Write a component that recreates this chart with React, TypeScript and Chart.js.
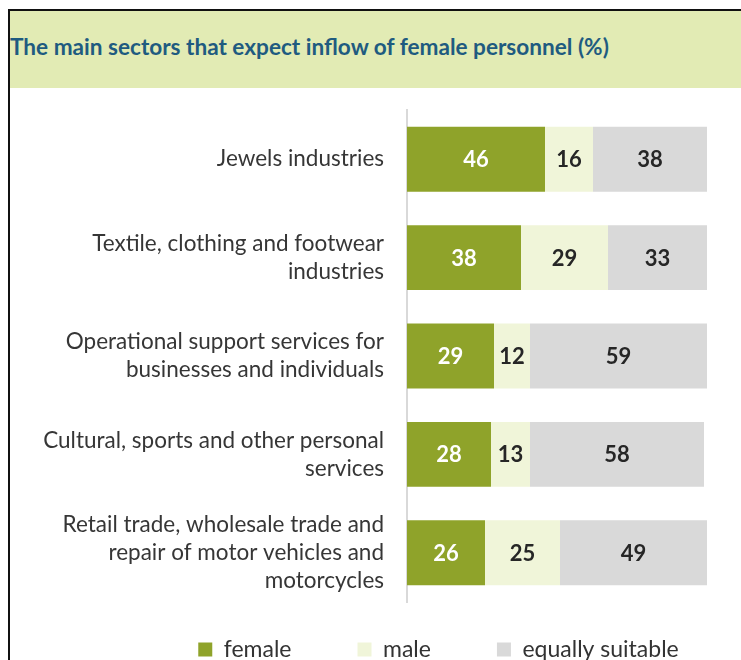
import React, { useEffect, useRef } from "react";
import { Chart, registerables } from "chart.js";

Chart.register(...registerables);

const TITLE = "The main sectors that expect inflow of female personnel (%)";

const categories: string[][] = [
  ["Jewels industries"],
  ["Textile, clothing and footwear", "industries"],
  ["Operational support services for", "businesses and individuals"],
  ["Cultural, sports and other personal", "services"],
  ["Retail trade, wholesale trade and", "repair of motor vehicles and", "motorcycles"],
];

const seriesNames = ["female", "male", "equally suitable"];
const femaleValues = [46, 38, 29, 28, 26];
const maleValues = [16, 29, 12, 13, 25];
const equallyValues = [38, 33, 59, 58, 49];

const seriesColors = ["#8fa32a", "#f0f5d9", "#d9d9d9"];
const labelColors = ["#ffffff", "#262626", "#262626"];

const FONT = "Lato, 'Open Sans', sans-serif";

const valueLabels = {
  id: "valueLabels",
  afterDatasetsDraw(chart: any) {
    const ctx = chart.ctx;
    ctx.save();
    ctx.font = `bold 22px ${FONT}`;
    ctx.textAlign = "center";
    ctx.textBaseline = "middle";
    chart.data.datasets.forEach((ds: any, i: number) => {
      const meta = chart.getDatasetMeta(i);
      meta.data.forEach((el: any, j: number) => {
        const v = ds.data[j];
        ctx.fillStyle = labelColors[i];
        ctx.fillText(String(v), (el.x + el.base) / 2, el.y + 1);
      });
    });
    ctx.restore();
  },
};

const legendShift = {
  id: "legendShift",
  afterLayout(chart: any) {
    const lg = chart.legend;
    if (!lg) return;
    const dy = -30;
    const dx = 80;
    lg.top += dy;
    lg.bottom += dy;
    lg.left += dx;
    lg.right += dx;
  },
};

export default function App() {
  const ref = useRef<HTMLCanvasElement | null>(null);

  useEffect(() => {
    if (!ref.current) return;
    const chart = new Chart(ref.current, {
      type: "bar",
      data: {
        labels: categories,
        datasets: [
          { label: seriesNames[0], data: femaleValues, backgroundColor: seriesColors[0] },
          { label: seriesNames[1], data: maleValues, backgroundColor: seriesColors[1] },
          { label: seriesNames[2], data: equallyValues, backgroundColor: seriesColors[2] },
        ],
      },
      options: {
        indexAxis: "y",
        animation: false,
        responsive: false,
        devicePixelRatio: 1,
        layout: { padding: { top: 22, left: 0, right: 34, bottom: 0 } },
        datasets: {
          bar: { categoryPercentage: 1, barPercentage: 0.66, borderWidth: 0 },
        },
        scales: {
          x: {
            stacked: true,
            min: 0,
            max: 100,
            display: false,
          },
          y: {
            stacked: true,
            grid: { display: false, drawTicks: false },
            border: { display: true, color: "#d9d9d9", width: 2 },
            ticks: {
              padding: 23,
              color: "#363636",
              font: { family: FONT, size: 22.5, lineHeight: 1.25 },
            },
            afterFit(scale: any) {
              scale.width = 397;
              scale.paddingTop = 0;
              scale.paddingBottom = 0;
            },
          },
        },
        plugins: {
          title: { display: false },
          tooltip: { enabled: false },
          legend: {
            position: "bottom",
            labels: {
              boxWidth: 14,
              boxHeight: 14,
              padding: 66,
              color: "#333333",
              font: { family: FONT, size: 23 },
            },
          },
        },
      },
      plugins: [valueLabels, legendShift],
    });
    return () => chart.destroy();
  }, []);

  return (
    <div
      style={{
        position: "absolute",
        left: 8,
        top: 9,
        width: 733,
        height: 651,
        boxSizing: "border-box",
        borderTop: "2px solid #111",
        borderLeft: "2px solid #111",
        overflow: "hidden",
        background: "#ffffff",
      }}
    >
      <div
        style={{
          height: 77,
          background: "#e2ebb4",
          display: "flex",
          alignItems: "center",
          paddingBottom: 6,
          boxSizing: "border-box",
        }}
      >
        <span
          style={{
            fontFamily: FONT,
            fontWeight: 700,
            fontSize: 22.6,
            color: "#1f5b80",
            marginLeft: 0,
            whiteSpace: "nowrap",
          }}
        >
          {TITLE}
        </span>
      </div>
      <canvas ref={ref} width={731} height={613} style={{ display: "block", width: 731, height: 613 }} />
    </div>
  );
}
